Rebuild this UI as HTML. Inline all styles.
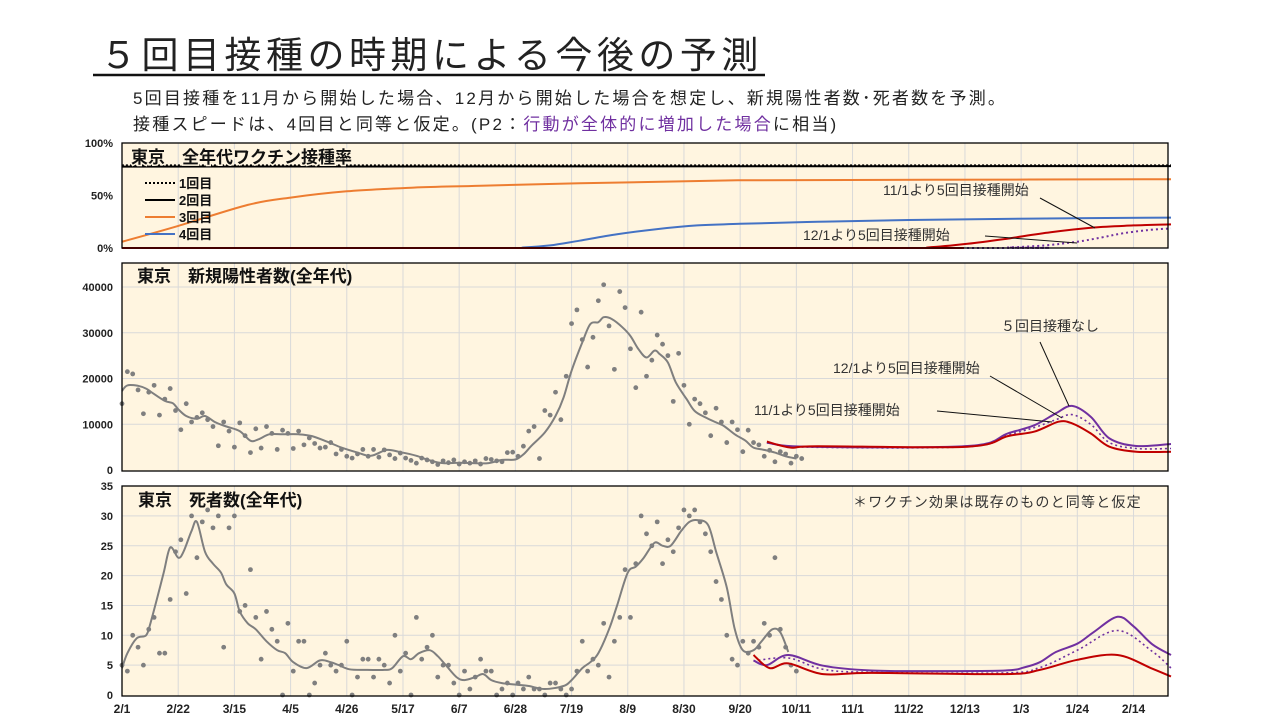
<!DOCTYPE html>
<html><head><meta charset="utf-8">
<style>
body{margin:0;width:1280px;height:720px;background:#fff;overflow:hidden;font-family:"Liberation Sans","Noto Sans CJK JP",sans-serif;}
svg{position:absolute;left:0;top:0}
</style></head>
<body>
<svg id="c" width="1280" height="720" xmlns="http://www.w3.org/2000/svg" font-family="Liberation Sans, Noto Sans CJK JP, sans-serif">
<text x="100" y="68" font-size="37" letter-spacing="4.5" fill="#222">５回目接種の時期による今後の予測</text>
<line x1="93" y1="75" x2="765" y2="75" stroke="#111" stroke-width="2.5"/>
<text x="133" y="104" font-size="17" letter-spacing="2.2" fill="#222">5回目接種を11月から開始した場合、12月から開始した場合を想定し、新規陽性者数･死者数を予測。</text>
<text x="133" y="130" font-size="17" letter-spacing="2.2" fill="#222">接種スピードは、4回目と同等と仮定。(P2：<tspan fill="#7030a0">行動が全体的に増加した場合</tspan>に相当)</text>
<g id="g"></g>
</svg>
<script>
// ---- shared x axis ----
const xTickLabels=["2/1","2/22","3/15","4/5","4/26","5/17","6/7","6/28","7/19","8/9","8/30","9/20","10/11","11/1","11/22","12/13","1/3","1/24","2/14"];
// ---- vaccination panel (%): [day, value] ----
const dose1=[[0,79],[392,79]];
const dose2=[[0,77.5],[392,78]];
const dose3Days=[0,21,47,63,84,109,134,171,230,300,392];
const dose3Vals=[6,21,41,48,54,57.5,59.3,61.6,64.5,65,65.5];
const dose4Days=[0,140,150,160,171,185,200,215,231,260,294,340,392];
const dose4Vals=[0,0,0.5,2.5,7,13,18,21.5,23,25,26.7,28,29];
const dose5NovDays=[0,290,301,316,331,347,363,378,392];
const dose5NovVals=[0,0,0.5,4,9,15,19.5,21.5,22.5];
const dose5DecDays=[0,320,331,345,357,366,374,383,392];
const dose5DecVals=[0,0,0.5,2.5,6,10,14,17,18.7];
// ---- new cases panel ----
const caseLineDays=[0,2,6,9,11,16,19,21,24,28,31,35,39,44,48,51,55,60,66,71,77,82,88,93,99,104,110,115,120,126,131,137,142,147,150,153,158,162,165,168,172,175,178,180,183,187,190,193,196,199,201,204,207,211,214,218,222,225,229,233,236,240,244,248,252];
const caseLineVals=[17300,18500,18400,17800,17000,15100,14600,13300,11800,11200,11800,10400,9500,8500,6400,6700,7800,7800,7800,7400,6100,4900,3800,3100,4400,3900,3100,2100,1500,1600,1500,1500,2200,2300,3400,5300,8200,11800,15800,21700,27900,31900,32300,33400,33000,31200,29300,26400,24600,26100,25300,23500,19100,15500,12900,11500,10400,9600,7800,6400,4900,4400,3800,3000,2500];
const caseDots=[14.5,21.5,21,17.5,12.3,17,18.5,12,15.5,17.8,13,8.8,14.5,10.5,11.5,12.5,11,9.5,5.3,10.5,8.5,5,10.3,7.5,3.8,9,4.8,9.5,8,4.5,8.7,8,4.7,8.5,5.5,7,5.8,4.8,5,6,3.5,4.5,3,2.6,3.5,4.5,3,4.5,2.8,4.4,3.3,2.5,3.7,2.6,2.1,1.5,2.6,2.2,1.8,1.2,2,1.6,2.2,1.3,1.8,1.5,2,1.3,2.5,2.3,2,1.8,3.8,3.9,3,5.2,8.5,9.5,2.5,13,12,17,11,20.5,32,35,28.5,22.5,29,37,40.5,31.5,22,39,35.5,26.5,18,34.5,20.5,24,29.5,27.5,25,15,25.5,18.5,10,15.5,14.5,12.5,7.5,13.5,10.5,6,10.5,8.8,4,8.7,6,5.5,3,4.3,1.8,4,3.5,1.5,3,2.5]; // thousands, every 2 days from day 0
const caseNoneDays=[241,256,316,331,341,349,355,362,369,379,392];
const caseNoneVals=[5970,5100,5250,8000,9800,12400,14000,11650,6900,5250,5680];
const caseDecDays=[241,256,316,331,341,349,355,362,369,379,392];
const caseDecVals=[5970,5000,5100,7600,9300,11000,12100,10000,6000,4700,4700];
const caseNovDays=[241,250,260,316,331,341,350,355,362,369,379,392];
const caseNovVals=[6200,4900,5200,5100,7400,8400,10550,10200,8000,5100,4000,4000];
// ---- deaths panel ----
const deathLineDays=[0,2,5.5,9,10.6,13,15.6,18,21,23,26,28,31,34,37,39,42,44,47,50,54,58,61,64,69,74,78,81,85,91,98,101,105,108,111,115,118,121,125,128,132,135,138,142,148,152,158,165,168,172,175,178,182,185,189,192,195,199,202,205,209,212,215,219,222,226,229,232,236,239,243,246,249];
const deathLineVals=[4.5,7,9.5,10,12,16,20.5,24.7,23,24,27.5,29,24,22,20.5,18.5,17,14,12,11,9,7.5,7,5.5,4.5,5.8,5.5,5,4.3,4.2,4.2,4.5,6.5,6,7,7.5,6.5,5,3,2.5,3,3.5,2.5,2,1.7,1.5,1,1.5,2.5,4.5,5.5,7,11,15,20.5,21.5,23,25.5,25,25,27.5,29,29.3,28.5,24,18,11,7.5,7.5,9,11,10.5,7.2];
const deathDots=[5,4,10,8,5,11,13,7,7,16,24,26,17,30,23,29,31,28,30,8,28,30,14,15,21,13,6,14,11,9,0,12,4,9,9,0,2,5,7,5,4,5,9,0,3,6,6,3,6,5,2,10,4,7,0,13,6,8,10,3,5,5,2,0,4,1,3,6,4,4,0,1,2,0,2,1,3,1,1,0,2,2,1,0,1,4,9,4,6,5,12,3,9,13,21,13,22,30,27,25,29,22,26,24,28,31,30,31,29,27,24,19,16,10,6,5,9,7,9,8,12,10,23,11,8,5,4]; // every 2 days from day 0
const deathNoneDays=[236,241,249,262,280,305,330,337,343,349,357,363,372,378,385,392];
const deathNoneVals=[5.8,5,6.7,4.9,4.1,4,4.1,4.6,5.5,7.2,8.6,10.5,13.1,11.5,8.5,6.7];
const deathDecDays=[236,249,262,280,330,343,357,372,385,392];
const deathDecVals=[5.7,6.2,4.3,3.8,3.7,4.6,7.5,10.8,7.3,4.5];
const deathNovDays=[236,242,249,262,280,330,343,357,372,385,392];
const deathNovVals=[6.7,4.5,5.3,3.5,3.7,3.5,4.2,5.9,6.7,4.4,3.1];

const NS="http://www.w3.org/2000/svg";
const G=document.getElementById('g');
const X0=122,X1=1168,PXD=2.676;
const xs=d=>X0+d*PXD;
function mk(tag,attrs,parent){const e=document.createElementNS(NS,tag);for(const k in attrs)e.setAttribute(k,attrs[k]);(parent||G).appendChild(e);return e;}
function smooth(pts){let d="M"+pts[0][0].toFixed(1)+","+pts[0][1].toFixed(1);
 for(let i=0;i<pts.length-1;i++){const p0=pts[i-1]||pts[i],p1=pts[i],p2=pts[i+1],p3=pts[i+2]||p2;
  const c1=[p1[0]+(p2[0]-p0[0])/6,p1[1]+(p2[1]-p0[1])/6],c2=[p2[0]-(p3[0]-p1[0])/6,p2[1]-(p3[1]-p1[1])/6];
  d+=" C"+c1[0].toFixed(1)+","+c1[1].toFixed(1)+" "+c2[0].toFixed(1)+","+c2[1].toFixed(1)+" "+p2[0].toFixed(1)+","+p2[1].toFixed(1);}
 return d;}
function line(days,vals,ys,stroke,w,dash,name){
 const e=mk('path',{d:smooth(days.map((d,i)=>[xs(d),ys(vals[i])])),fill:'none',stroke:stroke,'stroke-width':w});
 if(dash)e.setAttribute('stroke-dasharray',dash);
 
 
 return e;}
function panel(top,bot,name,hTicks){
 const r=mk('rect',{x:X0,y:top,width:X1-X0,height:bot-top,fill:'#fff5e0'});
 
 
 for(let i=1;i<xTickLabels.length;i++){const gl=mk('line',{x1:xs(i*21),x2:xs(i*21),y1:top,y2:bot,stroke:'#d9d9d9','stroke-width':1});
  
  }
 hTicks.forEach(y=>{const gl=mk('line',{x1:X0,x2:X1,y1:y,y2:y,stroke:'#d9d9d9','stroke-width':1});
  
  });
}
function frame(top,bot,name){const r=mk('rect',{x:X0,y:top,width:X1-X0,height:bot-top,fill:'none',stroke:'#000','stroke-width':1.3});
 
 }
function txt(x,y,s,size,opts){const t=mk('text',Object.assign({x:x,y:y,'font-size':size,fill:'#222'},opts||{}));t.textContent=s;return t;}
function ylabel(y,s,name){const t=txt(113,y+4,s,11,{'text-anchor':'end','font-weight':'bold'});
 
 }
function ann(x,y,s,lx1,ly1,lx2,ly2,name){const t=txt(x,y,s,14,{fill:'#333'});
 
 
 const l=mk('line',{x1:lx1,y1:ly1,x2:lx2,y2:ly2,stroke:'#111','stroke-width':1});
 
 }

// ===== Top panel: vaccination =====
const T0=143,T1=248,yv=p=>T1-p*(T1-T0)/100;
panel(T0,T1,'vaccination',[]);
[["100%",100],["50%",50],["0%",0]].forEach(a=>ylabel(yv(a[1]),a[0],'vaccination-y-tick'));
line(dose3Days,dose3Vals,yv,'#ed7d31',2,null,'dose3-line');
line(dose4Days,dose4Vals,yv,'#4472c4',2,null,'dose4-line');
line(dose5DecDays,dose5DecVals,yv,'#7030a0',2,'2 3','dose5-dec-line');
line(dose5NovDays,dose5NovVals,yv,'#c00000',2,null,'dose5-nov-line');
line(dose2.map(p=>p[0]),dose2.map(p=>p[1]),yv,'#000',2,null,'dose2-line');
line(dose1.map(p=>p[0]),dose1.map(p=>p[1]),yv,'#000',1.5,'2 2','dose1-line');
frame(T0,T1,'vaccination');
{const t=txt(131,163,"東京　全年代ワクチン接種率",17,{'font-weight':'bold',fill:'#111',stroke:'#fff5e0','stroke-width':3,'paint-order':'stroke'});}
[["1回目","#000","2 2",183],["2回目","#000",null,200],["3回目","#ed7d31",null,217],["4回目","#4472c4",null,234]].forEach(a=>{
 const l=mk('line',{x1:145,x2:175,y1:a[3],y2:a[3],stroke:a[1],'stroke-width':2});if(a[2])l.setAttribute('stroke-dasharray',a[2]);
 
 
 const t=txt(179,a[3]+5,a[0],13,{'font-weight':'bold',fill:'#111'});
 
 });
ann(883,195,"11/1より5回目接種開始",1040,198,1095,228,'annot-vacc-nov');
ann(803,240,"12/1より5回目接種開始",985,236,1077,243,'annot-vacc-dec');

// ===== Middle panel: new cases =====
const M0=263,M1=471,MZ=470,yc=v=>MZ-v*0.004575;
panel(M0,M1,'cases',[1,2,3,4].map(k=>yc(k*10000)));
["0","10000","20000","30000","40000"].forEach((s,i)=>ylabel(yc(i*10000),s,'cases-y-tick'));
caseDots.forEach((v,i)=>{const c=mk('circle',{cx:xs(i*2),cy:yc(v*1000),r:2.4,fill:'#7f7f7f'});
 
 });
line(caseLineDays,caseLineVals,yc,'#7f7f7f',2,null,'cases-moving-average');
line(caseNoneDays,caseNoneVals,yc,'#7030a0',2,null,'cases-no-dose5');
line(caseDecDays,caseDecVals,yc,'#7030a0',1.6,'2 3','cases-dec-start');
line(caseNovDays,caseNovVals,yc,'#c00000',2,null,'cases-nov-start');
frame(M0,M1,'cases');
{const t=txt(137,282,"東京　新規陽性者数(全年代)",17,{'font-weight':'bold',fill:'#111'});}
ann(1001,331,"５回目接種なし",1040,342,1069,406,'annot-cases-none');
ann(833,373,"12/1より5回目接種開始",990,376,1062,418,'annot-cases-dec');
ann(754,415,"11/1より5回目接種開始",937,411,1052,422,'annot-cases-nov');

// ===== Bottom panel: deaths =====
const B0=486,B1=696,BZ=695,yd=v=>BZ-v*5.97;
panel(B0,B1,'deaths',[1,2,3,4,5,6].map(k=>yd(k*5)));
["0","5","10","15","20","25","30","35"].forEach((s,i)=>ylabel(yd(i*5),s,'deaths-y-tick'));
deathDots.forEach((v,i)=>{const c=mk('circle',{cx:xs(i*2),cy:yd(v),r:2.4,fill:'#7f7f7f'});
 
 });
line(deathLineDays,deathLineVals,yd,'#7f7f7f',2,null,'deaths-moving-average');
line(deathNoneDays,deathNoneVals,yd,'#7030a0',2,null,'deaths-no-dose5');
line(deathDecDays,deathDecVals,yd,'#7030a0',1.6,'2 3','deaths-dec-start');
line(deathNovDays,deathNovVals,yd,'#c00000',2,null,'deaths-nov-start');
frame(B0,B1,'deaths');
{const t=txt(138,506,"東京　死者数(全年代)",17,{'font-weight':'bold',fill:'#111'});}
{const t=txt(853,507,"＊ワクチン効果は既存のものと同等と仮定",14,{fill:'#333','letter-spacing':'1.2'});}
xTickLabels.forEach((s,i)=>{const t=txt(xs(i*21),713,s,12,{'text-anchor':'middle','font-weight':'bold'});
 
 });
</script>
</body></html>
